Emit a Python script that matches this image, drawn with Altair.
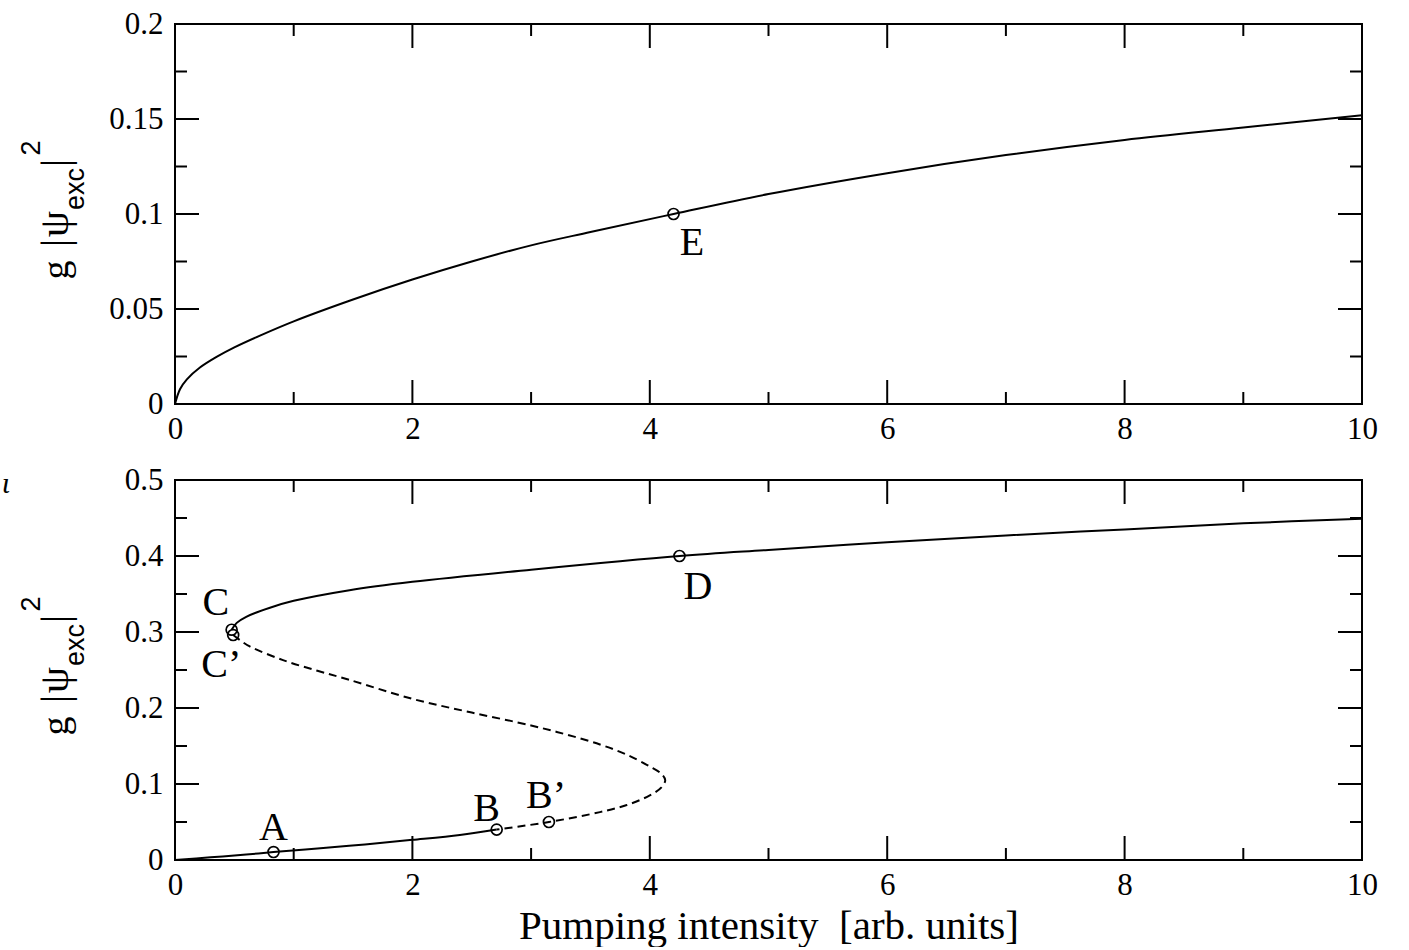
import altair as alt
import pandas as pd

# ---------------- data ----------------
# top panel: single stable branch
top_x = [0, 0.042, 0.1, 0.21, 0.35, 0.5, 0.716, 1.0, 1.5, 2.0, 2.5, 3.0, 3.5, 4.2, 5.0, 6.0, 7.0, 8.0, 9.0, 10.0]
top_y = [0, 0.0078, 0.013, 0.0192, 0.0248, 0.0298, 0.036, 0.0435, 0.055, 0.0655, 0.075, 0.0835, 0.0905, 0.100, 0.1105, 0.1215, 0.131, 0.139, 0.1455, 0.152]

# bottom panel: lower stable branch (origin -> B)
low_x = [0, 0.3, 0.6, 0.83, 1.2, 1.6, 2.0, 2.4, 2.71]
low_y = [0, 0.0035, 0.0072, 0.0105, 0.015, 0.0205, 0.0265, 0.033, 0.040]

# bottom panel: upper stable branch (C -> right edge)
up_x = [0.477, 0.52, 0.6, 0.8, 1.0, 1.47, 2.0, 3.0, 4.25, 5.0, 6.0, 7.0, 8.0, 9.0, 10.0]
up_y = [0.303, 0.312, 0.320, 0.332, 0.341, 0.355, 0.366, 0.382, 0.400, 0.408, 0.418, 0.427, 0.435, 0.443, 0.449]

# bottom panel: unstable (dashed) branch, ordered along the curve from C' to B
mid_x = [0.49, 0.55, 0.63, 0.91, 1.2, 1.47, 2.0, 2.5, 3.0, 3.3, 3.58, 3.8, 4.0, 4.1, 4.13, 4.1, 4.0, 3.8, 3.58, 3.15, 2.71]
mid_y = [0.296, 0.289, 0.281, 0.263, 0.249, 0.237, 0.212, 0.194, 0.177, 0.165, 0.152, 0.139, 0.123, 0.113, 0.105, 0.096, 0.085, 0.072, 0.063, 0.050, 0.040]

# marked points
top_pts_x = [4.2]
top_pts_y = [0.100]
bot_pts_x = [0.83, 2.71, 3.15, 0.477, 0.49, 4.25]
bot_pts_y = [0.0105, 0.040, 0.050, 0.303, 0.296, 0.400]

# point labels (text anchor in data units)
top_lab = ["E"]
top_lab_x = [4.356]
top_lab_y = [0.0784]
bot_lab = ["A", "B", "B\u2019", "C", "C\u2019", "D"]
bot_lab_x = [0.83, 2.626, 3.126, 0.345, 0.39, 4.406]
bot_lab_y = [0.0263, 0.051, 0.068, 0.322, 0.241, 0.343]

# ticks
x_major = [0, 2, 4, 6, 8, 10]
x_minor = [1, 3, 5, 7, 9]
top_y_major = [0, 0.05, 0.1, 0.15, 0.2]
top_y_minor = [0.025, 0.075, 0.125, 0.175]
bot_y_major = [0, 0.1, 0.2, 0.3, 0.4, 0.5]
bot_y_minor = [0.05, 0.15, 0.25, 0.35, 0.45]

X_TITLE = "Pumping intensity\u00a0 [arb. units]"

# ---------------- styling ----------------
W, H = 1187, 380
SERIF = "Liberation Serif"
SANS = "Liberation Sans"
LBL = 31


def make_panel(lines, pts_x, pts_y, labs, lab_x, lab_y, ydom, ymaj, ymin, xtitle, extra=None):
    xscale = alt.Scale(domain=[0, 10], nice=False, zero=False)
    yscale = alt.Scale(domain=ydom, nice=False, zero=False)
    xaxis = alt.Axis(values=x_major, ticks=False, domain=False, grid=False,
                     labelFont=SERIF, labelFontSize=LBL, labelColor="black",
                     labelPadding=10, labelFlush=False, labelOverlap=False, format="d",
                     titleFont=SERIF, titleFontSize=41, titleFontWeight="normal",
                     titleColor="black", titlePadding=6)
    yaxis = alt.Axis(values=ymaj, ticks=False, domain=False, grid=False,
                     labelFont=SERIF, labelFontSize=LBL, labelColor="black",
                     labelPadding=12, labelFlush=False, labelOverlap=False, format="~g")

    def X(f):
        return alt.X(f, scale=xscale, axis=xaxis, title=xtitle)

    def Y(f):
        return alt.Y(f, scale=yscale, axis=yaxis, title=None)

    layers = []
    for (lx, ly, dash) in lines:
        df = pd.DataFrame({"x": lx, "y": ly, "i": list(range(len(lx)))})
        kw = dict(color="black", strokeWidth=2, interpolate="catmull-rom")
        if dash:
            kw["strokeDash"] = [8, 5]
        layers.append(alt.Chart(df).mark_line(**kw).encode(x=X("x:Q"), y=Y("y:Q"), order="i:Q"))

    pdf = pd.DataFrame({"x": pts_x, "y": pts_y})
    layers.append(alt.Chart(pdf).mark_point(shape="circle", filled=False, size=120,
                                            strokeWidth=1.7, color="black", opacity=1)
                  .encode(x=X("x:Q"), y=Y("y:Q")))

    ldf = pd.DataFrame({"t": labs, "x": lab_x, "y": lab_y})
    layers.append(alt.Chart(ldf).mark_text(font=SERIF, fontSize=40, align="center",
                                           baseline="alphabetic", color="black")
                  .encode(x=X("x:Q"), y=Y("y:Q"), text="t:N"))

    # inward ticks on all four sides
    for vals, L in ((x_major, 24), (x_minor, 12)):
        tdf = pd.DataFrame({"v": vals})
        base = alt.Chart(tdf).mark_rule(color="black", strokeWidth=2)
        layers.append(base.encode(x=X("v:Q"), y=alt.value(H), y2=alt.value(H - L)))
        layers.append(base.encode(x=X("v:Q"), y=alt.value(0), y2=alt.value(L)))
    for vals, L in ((ymaj, 24), (ymin, 12)):
        tdf = pd.DataFrame({"v": vals})
        base = alt.Chart(tdf).mark_rule(color="black", strokeWidth=2)
        layers.append(base.encode(y=Y("v:Q"), x=alt.value(0), x2=alt.value(L)))
        layers.append(base.encode(y=Y("v:Q"), x=alt.value(W), x2=alt.value(W - L)))

    # y-axis title  g |psi_exc|^2 built from pieces (rotated)
    one = pd.DataFrame({"a": [0]})
    pieces = [
        ("g", -107, 246, 38, SERIF),
        ("|", -107, 219, 40, SERIF),
        ("\u03c8", -107, 200, 42, SERIF),
        ("exc", -91, 165, 27, SANS),
        ("|", -107, 139, 40, SERIF),
        ("2", -135, 124, 27, SANS),
    ]
    for t, px, py, fs, fnt in pieces:
        layers.append(alt.Chart(one).mark_text(text=t, angle=270, font=fnt, fontSize=fs,
                                               align="center", baseline="alphabetic",
                                               color="black")
                      .encode(x=alt.value(px), y=alt.value(py)))
    if extra is not None:
        layers.append(extra)

    return alt.layer(*layers).properties(width=W, height=H)


top = make_panel([(top_x, top_y, False)], top_pts_x, top_pts_y, top_lab, top_lab_x, top_lab_y,
                 [0, 0.2], top_y_major, top_y_minor, None)

frag = alt.Chart(pd.DataFrame({"a": [0]})).mark_text(
    text="\u03b9", font=SERIF, fontSize=30, fontStyle="italic", align="center",
    baseline="alphabetic", color="black").encode(x=alt.value(-169), y=alt.value(13))

bottom = make_panel([(low_x, low_y, False), (up_x, up_y, False), (mid_x, mid_y, True)],
                    bot_pts_x, bot_pts_y, bot_lab, bot_lab_x, bot_lab_y,
                    [0, 0.5], bot_y_major, bot_y_minor, X_TITLE, extra=frag)

chart = alt.vconcat(top, bottom, spacing=76, bounds="flush").configure_view(
    stroke="black", strokeWidth=2
).properties(
    padding={"left": 0, "top": 7, "right": 5, "bottom": 0},
    background="white",
)

chart.save("out.html", embed_options={"renderer": "svg", "actions": False})
